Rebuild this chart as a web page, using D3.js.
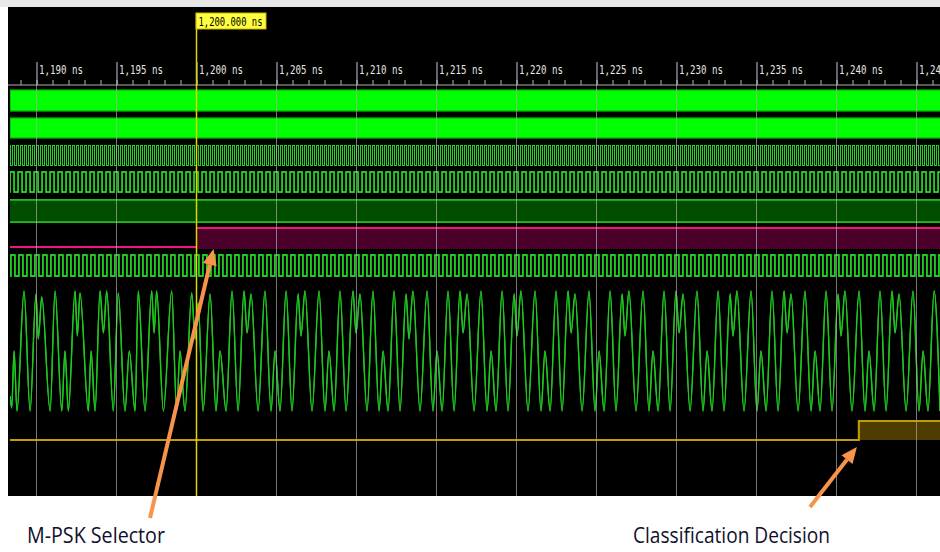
<!DOCTYPE html>
<html lang="en">
<head>
<meta charset="utf-8" />
<title>M-PSK classifier waveform</title>
<script src="https://cdnjs.cloudflare.com/ajax/libs/d3/7.8.5/d3.min.js"></script>
<style>
  body { margin: 0; background: #fff; }
  svg { display: block; }
</style>
</head>
<body>
<svg id="wave" width="940" height="552"></svg>
<script>
  // time axis (ns)
  const tickValues = [1190, 1195, 1200, 1205, 1210, 1215, 1220, 1225, 1230, 1235, 1240, 1245];
  const tickLabels = ["1,190 ns", "1,195 ns", "1,200 ns", "1,205 ns", "1,210 ns", "1,215 ns",
                      "1,220 ns", "1,225 ns", "1,230 ns", "1,235 ns", "1,240 ns", "1,245 ns"];
  const cursorTime = 1200;
  const cursorLabel = "1,200.000 ns";

  // clock rows: period and first rising edge (ns)
  const clockPeriods = [0.25, 0.5, 0.5];
  const clockPhases = [1188.28, 1188.35, 1188.4];

  // event times
  const selectorTime = 1200;
  const decisionTime = 1241.4;

  // modulated carrier, extrema (time ns, level -1..1)
  const waveT = [1188.35, 1188.45, 1188.60, 1188.78, 1189.22, 1189.60, 1189.97, 1190.11, 1190.33, 1190.85,
    1191.16, 1191.58, 1191.78, 1191.99, 1192.41, 1192.55, 1192.72, 1193.24, 1193.41, 1193.66,
    1193.97, 1194.18, 1194.39, 1194.80, 1195.11, 1195.53, 1195.80, 1196.16, 1196.36, 1196.78,
    1197.20, 1197.35, 1197.51, 1197.93, 1198.45, 1198.76, 1198.97, 1199.28, 1199.70, 1199.91,
    1200.11, 1200.41, 1200.85, 1201.22, 1201.47, 1201.85, 1202.22, 1202.60, 1202.97, 1203.16,
    1203.41, 1203.85, 1204.28, 1204.66, 1204.91, 1205.22, 1205.60, 1205.97, 1206.35, 1206.53,
    1206.78, 1207.22, 1207.66, 1208.03, 1208.28, 1208.60, 1208.97, 1209.35, 1209.78, 1209.97,
    1210.22, 1210.66, 1211.03, 1211.41, 1211.66, 1211.97, 1212.35, 1212.72, 1213.10, 1213.28,
    1213.53, 1213.97, 1214.41, 1214.78, 1215.03, 1215.35, 1215.72, 1216.10, 1216.47, 1216.66,
    1216.91, 1217.35, 1217.78, 1218.16, 1218.41, 1218.72, 1219.10, 1219.47, 1219.85, 1220.03,
    1220.28, 1220.72, 1221.16, 1221.53, 1221.78, 1222.10, 1222.47, 1222.85, 1223.22, 1223.41,
    1223.66, 1224.10, 1224.53, 1224.91, 1225.16, 1225.47, 1225.85, 1226.22, 1226.60, 1226.78,
    1227.03, 1227.47, 1227.91, 1228.28, 1228.53, 1228.85, 1229.22, 1229.60, 1229.97, 1230.16,
    1230.41, 1230.85, 1231.28, 1231.66, 1231.91, 1232.22, 1232.60, 1232.97, 1233.35, 1233.53,
    1233.78, 1234.22, 1234.66, 1235.03, 1235.28, 1235.60, 1235.97, 1236.35, 1236.72, 1236.91,
    1237.16, 1237.60, 1238.03, 1238.41, 1238.66, 1238.97, 1239.35, 1239.72, 1240.10, 1240.28,
    1240.53, 1240.97, 1241.41, 1241.78, 1242.03, 1242.35, 1242.72, 1243.10, 1243.47, 1243.66,
    1243.91, 1244.35, 1244.78, 1245.16, 1245.41, 1245.72, 1246.10, 1246.47];
  const waveV = [-0.75, -0.95, 0.0, -1.0, 1.0, -1.0, 0.95, 0.2, 0.9, -1.0,
    1.0, -1.0, 0.0, -1.0, 1.0, 0.25, 0.97, -1.0, 0.0, -1.0,
    1.0, 0.3, 1.0, -1.0, 0.97, -1.0, 0.0, -1.0, 1.0, -1.0,
    1.0, 0.3, 1.0, -1.0, 1.0, -1.0, 0.0, -1.0, 0.97, 0.2,
    0.8, -1.0, 0.95, -1.0, 0.0, -1.0, 1.0, -1.0, 1.0, 0.3,
    0.95, -1.0, 1.0, -1.0, 0.0, -1.0, 1.0, -1.0, 0.95, 0.25,
    1.0, -1.0, 1.0, -1.0, 0.0, -1.0, 1.0, -1.0, 1.0, 0.3,
    0.95, -1.0, 1.0, -1.0, 0.0, -1.0, 1.0, -1.0, 0.95, 0.2,
    1.0, -1.0, 1.0, -1.0, 0.0, -1.0, 1.0, -1.0, 1.0, 0.3,
    0.95, -1.0, 1.0, -1.0, 0.0, -1.0, 1.0, -1.0, 0.95, 0.25,
    1.0, -1.0, 1.0, -1.0, 0.0, -1.0, 1.0, -1.0, 1.0, 0.3,
    0.95, -1.0, 1.0, -1.0, 0.0, -1.0, 1.0, -1.0, 0.95, 0.25,
    1.0, -1.0, 1.0, -1.0, 0.0, -1.0, 1.0, -1.0, 1.0, 0.3,
    0.95, -1.0, 1.0, -1.0, 0.0, -1.0, 1.0, -1.0, 0.95, 0.25,
    1.0, -1.0, 1.0, -1.0, 0.0, -1.0, 1.0, -1.0, 1.0, 0.3,
    0.95, -1.0, 1.0, -1.0, 0.0, -1.0, 1.0, -1.0, 0.95, 0.25,
    1.0, -1.0, 1.0, -1.0, 0.0, -1.0, 1.0, -1.0, 1.0, 0.3,
    0.95, -1.0, 1.0, -1.0, 0.0, -1.0, 1.0, -1.0];

  const annotationLabels = ["M-PSK Selector", "Classification Decision"];

  const svg = d3.select("#wave");
  const panel = { left: 8, top: 7, right: 940, bottom: 496 };
  const sigLeft = 10;

  const x = d3.scaleLinear().domain([1190, 1245]).range([36.5, 916.5]);

  // soft glow, like the scope screenshot
  const defs = svg.append("defs");
  const glow = defs.append("filter").attr("id", "glow")
    .attr("x", "-2%").attr("y", "-10%").attr("width", "104%").attr("height", "120%");
  glow.append("feGaussianBlur").attr("in", "SourceGraphic").attr("stdDeviation", 0.7).attr("result", "b");
  const merge = glow.append("feMerge");
  merge.append("feMergeNode").attr("in", "b");
  merge.append("feMergeNode").attr("in", "SourceGraphic");

  // background
  svg.append("rect").attr("x", 0).attr("y", 0).attr("width", 940).attr("height", panel.top)
    .attr("fill", "#e8e8e8");
  svg.append("rect").attr("x", panel.left).attr("y", panel.top)
    .attr("width", panel.right - panel.left).attr("height", panel.bottom - panel.top)
    .attr("fill", "#000");

  defs.append("clipPath").attr("id", "clip")
    .append("rect").attr("x", sigLeft).attr("y", panel.top)
    .attr("width", panel.right - sigLeft).attr("height", panel.bottom - panel.top);

  const sig = svg.append("g").attr("clip-path", "url(#clip)").append("g").attr("filter", "url(#glow)");
  const tEnd = x.invert(panel.right + 4);
  const tStart = x.invert(sigLeft);

  // two bright green buses
  [[90, 111], [118, 138]].forEach(function(r) {
    sig.append("rect")
      .attr("x", x(tStart)).attr("y", r[0])
      .attr("width", x(tEnd) - x(tStart)).attr("height", r[1] - r[0])
      .attr("fill", "#00ff00").attr("stroke", "#00a000").attr("stroke-width", 1);
  });

  // clocks
  const clockRows = [[145, 165], [172, 192], [255, 276]];
  clockPeriods.forEach(function(p, i) {
    const hi = clockRows[i][0], lo = clockRows[i][1];
    const edges = d3.range(clockPhases[i], tEnd, p / 2);
    const pts = [[tStart, lo]].concat(edges.map(function(t, k) { return [t, k % 2 ? lo : hi]; }));
    const line = d3.line().x(function(d) { return x(d[0]); }).y(function(d) { return d[1]; })
      .curve(d3.curveStepAfter);
    sig.append("path").attr("d", line(pts))
      .attr("fill", "none").attr("stroke", "#22d422").attr("stroke-width", i === 0 ? 1 : 1.4)
      .attr("shape-rendering", i === 0 ? "crispEdges" : "auto");
  });

  // dark green bus
  sig.append("rect")
    .attr("x", x(tStart)).attr("y", 200)
    .attr("width", x(tEnd) - x(tStart)).attr("height", 22)
    .attr("fill", "#004d00");
  [200, 222].forEach(function(yy) {
    sig.append("line").attr("x1", x(tStart)).attr("x2", x(tEnd)).attr("y1", yy).attr("y2", yy)
      .attr("stroke", "#22c422").attr("stroke-width", 1.5);
  });

  // selector row
  const pink = "#f0157f";
  sig.append("line").attr("x1", x(tStart)).attr("x2", x(selectorTime)).attr("y1", 247).attr("y2", 247)
    .attr("stroke", pink).attr("stroke-width", 2);
  sig.append("rect").attr("x", x(selectorTime)).attr("y", 228)
    .attr("width", x(tEnd) - x(selectorTime)).attr("height", 21)
    .attr("fill", "#4c0029");
  sig.append("line").attr("x1", x(selectorTime)).attr("x2", x(tEnd)).attr("y1", 228).attr("y2", 228)
    .attr("stroke", pink).attr("stroke-width", 2);

  // modulated carrier
  const yWave = d3.scaleLinear().domain([-1, 1]).range([411, 291]);
  const waveLine = d3.line()
    .x(function(d) { return x(d[0]); })
    .y(function(d) { return yWave(d[1]); })
    .curve(d3.curveMonotoneX);
  sig.append("path").attr("d", waveLine(waveT.map(function(t, i) { return [t, waveV[i]]; })))
    .attr("fill", "none").attr("stroke", "#1ec81e").attr("stroke-width", 1.3);

  // classification decision row
  const gold = "#c29c00";
  sig.append("rect").attr("x", x(decisionTime)).attr("y", 421)
    .attr("width", x(tEnd) - x(decisionTime)).attr("height", 19)
    .attr("fill", "#4f3e00");
  sig.append("path")
    .attr("d", d3.line()([[x(tStart), 440], [x(decisionTime), 440], [x(decisionTime), 421], [x(tEnd), 421]]))
    .attr("fill", "none").attr("stroke", gold).attr("stroke-width", 2);

  // time axis
  const minorAxis = d3.axisTop(x).tickValues(d3.range(1189, 1247)).tickSize(5).tickFormat("");
  const gMinor = svg.append("g").attr("transform", "translate(0,85)").call(minorAxis);
  gMinor.select(".domain").remove();
  gMinor.selectAll("line").attr("stroke", "#b8b8b8");

  const majorAxis = d3.axisTop(x).tickValues(tickValues).tickSize(23)
    .tickFormat(function(d, i) { return tickLabels[i]; });
  const gMajor = svg.append("g").attr("transform", "translate(0,85)").call(majorAxis);
  gMajor.select(".domain").remove();
  gMajor.selectAll("line").attr("stroke", "#c8c8c8");
  gMajor.selectAll("text")
    .attr("x", 2).attr("y", -11).attr("dy", 0)
    .attr("text-anchor", "start")
    .attr("fill", "#e6e6e6")
    .attr("font-family", "DejaVu Sans Mono, monospace")
    .attr("font-size", 12)
    .attr("textLength", 44).attr("lengthAdjust", "spacingAndGlyphs");

  svg.append("line").attr("x1", panel.left).attr("x2", panel.right).attr("y1", 85).attr("y2", 85)
    .attr("stroke", "#b0b0b0").attr("stroke-width", 1);

  // vertical grid
  svg.append("g").selectAll("line").data(tickValues).enter().append("line")
    .attr("x1", function(d) { return x(d); }).attr("x2", function(d) { return x(d); })
    .attr("y1", 85).attr("y2", panel.bottom)
    .attr("stroke", "#a8a8a8").attr("stroke-opacity", 0.7).attr("stroke-width", 1);

  // cursor
  svg.append("line").attr("x1", x(cursorTime)).attr("x2", x(cursorTime))
    .attr("y1", 13).attr("y2", panel.bottom)
    .attr("stroke", "#e3d400").attr("stroke-width", 1.5);
  svg.append("rect").attr("x", x(cursorTime) - 0.5).attr("y", 13)
    .attr("width", 70).attr("height", 16)
    .attr("fill", "#ffff40").attr("stroke", "#c9b800");
  svg.append("text").attr("x", x(cursorTime) + 2).attr("y", 26)
    .attr("font-family", "DejaVu Sans Mono, monospace").attr("font-size", 12)
    .attr("textLength", 64).attr("lengthAdjust", "spacingAndGlyphs")
    .attr("fill", "#000").text(cursorLabel);

  // annotations
  const orange = "#f7944a";
  function arrow(x1, y1, x2, y2) {
    const a = Math.atan2(y2 - y1, x2 - x1);
    const len = 16, half = 7;
    const bx = x2 - len * Math.cos(a), by = y2 - len * Math.sin(a);
    svg.append("line").attr("x1", x1).attr("y1", y1).attr("x2", bx).attr("y2", by)
      .attr("stroke", orange).attr("stroke-width", 4);
    svg.append("polygon")
      .attr("points", [[x2, y2],
        [bx + half * Math.sin(a), by - half * Math.cos(a)],
        [bx - half * Math.sin(a), by + half * Math.cos(a)]].map(function(p) { return p.join(","); }).join(" "))
      .attr("fill", orange);
  }
  arrow(150, 518, x(selectorTime) + 17, 249);
  arrow(810, 507, x(decisionTime) - 2, 447);

  const labelPos = [[27, 138], [633, 197]];
  annotationLabels.forEach(function(s, i) {
    svg.append("text").attr("x", labelPos[i][0]).attr("y", 543)
      .attr("font-family", "Liberation Sans Narrow, Open Sans, sans-serif")
      .attr("font-size", 22)
      .attr("textLength", labelPos[i][1]).attr("lengthAdjust", "spacingAndGlyphs")
      .attr("fill", "#10102a").text(s);
  });
</script>
</body>
</html>
